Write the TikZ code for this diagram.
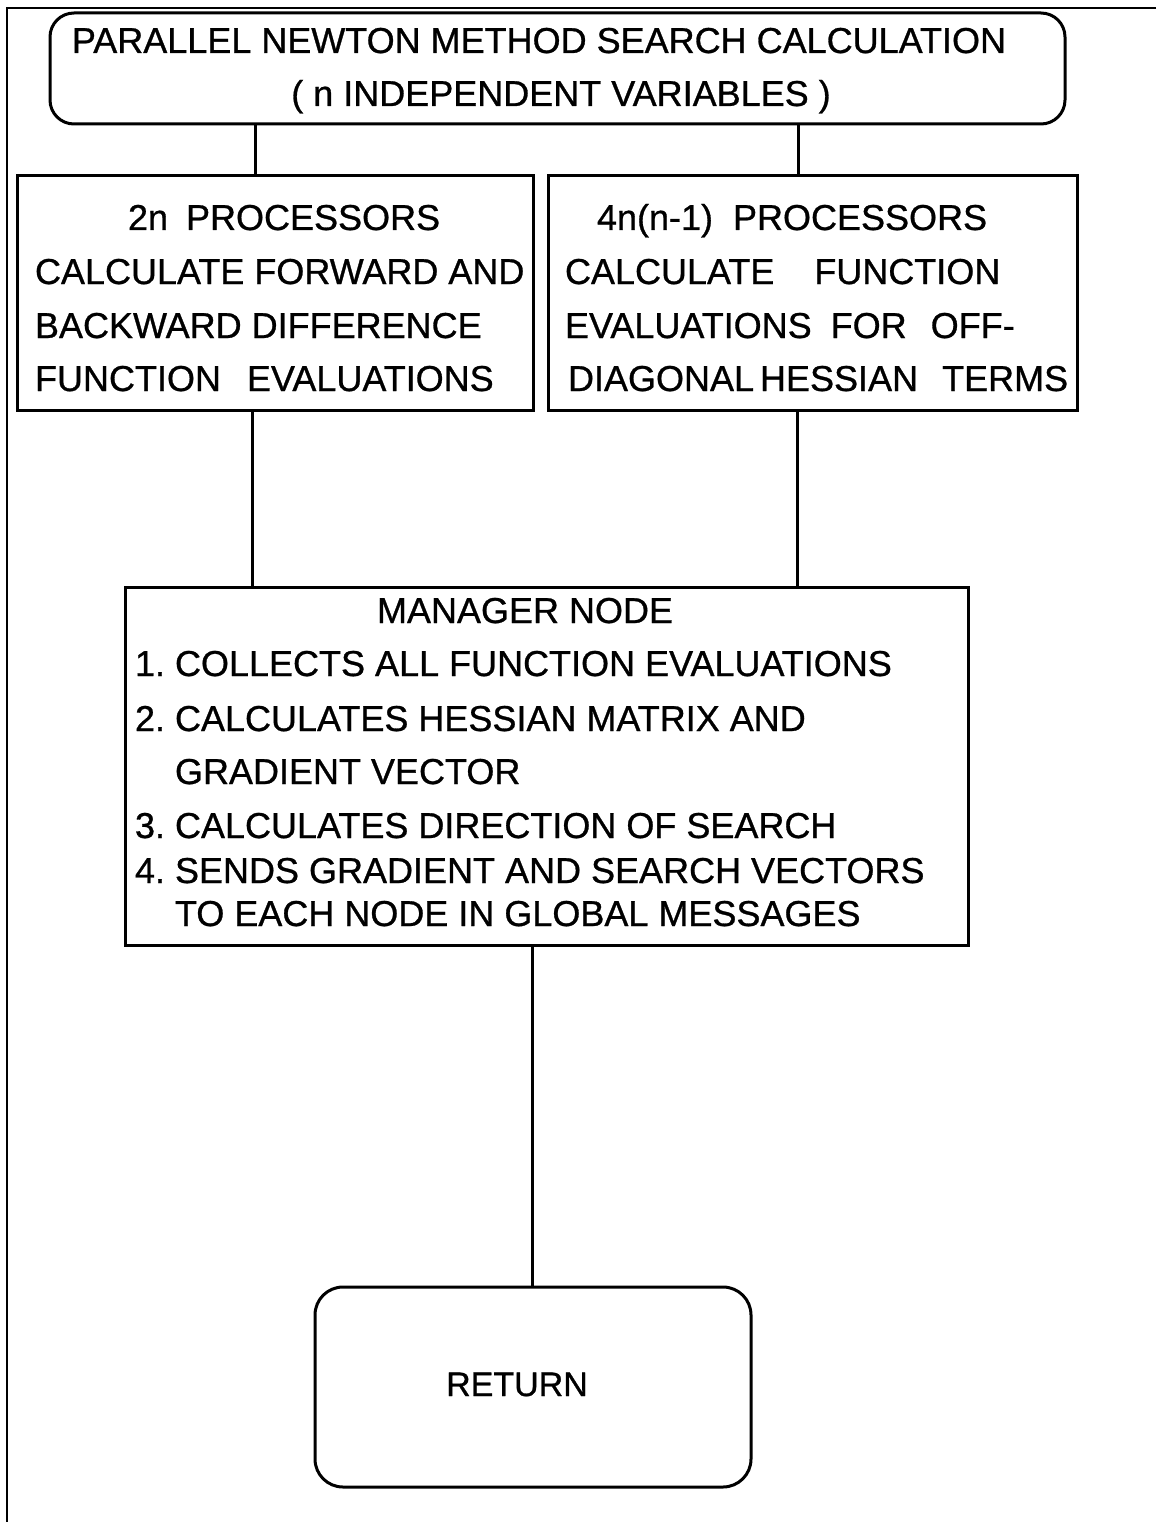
\documentclass[tikz,border=0pt]{standalone}
\usepackage{fontspec}
\setmainfont{Liberation Sans}[FakeBold=0.8]
\begin{document}
\frenchspacing
\begin{tikzpicture}[x=1pt,y=-1pt,line width=3pt,
  box/.style={draw,rectangle,inner sep=0pt,outer sep=0pt},
  rbox/.style={box,rounded corners=24pt},
  txt/.style={inner sep=0pt,outer sep=0pt,anchor=base west,font=\fontsize{36}{43}\selectfont},
  ctxt/.style={txt,anchor=base},
  conn/.style={draw,line width=3pt}]
\useasboundingbox (0,0) rectangle (1156,1522);
% page frame
\draw[line width=2.6pt] (1156,8) -- (7,8) -- (7,1522);
% boxes
\node[rbox,minimum width=1015pt,minimum height=111pt] (top) at (557.5,68.5) {};
\node[box,minimum width=516pt,minimum height=234pt] (left) at (275,293) {};
\node[box,minimum width=529pt,minimum height=234pt] (right) at (812.5,293) {};
\node[box,minimum width=843pt,minimum height=358pt] (mgr) at (546.5,766) {};
\node[rbox,rounded corners=28pt,minimum width=436pt,minimum height=200pt] (ret) at (533,1387) {};
% texts
\node[ctxt] (t1) at (539,53) {PARALLEL NEWTON METHOD SEARCH CALCULATION};
\node[ctxt] (t2) at (561,106) {( n INDEPENDENT VARIABLES )};
\node[txt] (l1) at (128,230) {2n\hspace{8pt} PROCESSORS};
\node[txt] (l2) at (35,284) {CALCULATE FORWARD AND};
\node[txt] (l3) at (35,338) {BACKWARD DIFFERENCE};
\node[txt] (l4) at (35,391) {FUNCTION\hspace{16pt} EVALUATIONS};
\node[txt] (r1) at (597,230) {4n(n-1)\hspace{10pt} PROCESSORS};
\node[txt] (r2) at (565,284) {CALCULATE\hspace{30pt} FUNCTION};
\node[txt] (r3) at (565,338) {EVALUATIONS\hspace{9pt} FOR\hspace{14pt} OFF-};
\node[txt] (r4) at (568,391) {DIAGONAL\hspace{-4pt} HESSIAN\hspace{14pt} TERMS};
\node[txt] (m0) at (377,623) {MANAGER NODE};
\node[txt] (m1) at (135,676) {1. COLLECTS ALL FUNCTION EVALUATIONS};
\node[txt] (m2) at (135,731) {2. CALCULATES HESSIAN MATRIX AND};
\node[txt] (m3) at (175,784) {GRADIENT VECTOR};
\node[txt] (m4) at (135,838) {3. CALCULATES DIRECTION OF SEARCH};
\node[txt] (m5) at (135,883) {4. SENDS GRADIENT AND SEARCH VECTORS};
\node[txt] (m6) at (175,926) {TO EACH NODE IN GLOBAL MESSAGES};
\node[ctxt,font=\fontsize{34}{40}\selectfont] (rt) at (517,1396) {RETURN};
% connectors
\coordinate (c1) at (255,0);
\coordinate (c2) at (798,0);
\coordinate (c3) at (252,0);
\coordinate (c4) at (797,0);
\coordinate (c5) at (532,0);
\draw[conn] (top.south -| c1) -- (left.north -| c1);
\draw[conn] (top.south -| c2) -- (right.north -| c2);
\draw[conn] (left.south -| c3) -- (mgr.north -| c3);
\draw[conn] (right.south -| c4) -- (mgr.north -| c4);
\draw[conn] (mgr.south -| c5) -- (ret.north -| c5);
\end{tikzpicture}
\end{document}
